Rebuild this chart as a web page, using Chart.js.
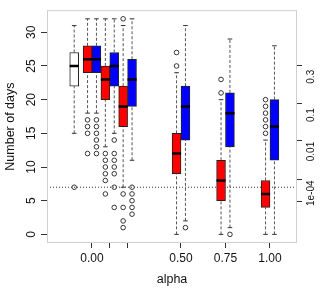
<!DOCTYPE html>
<html><head><meta charset="utf-8">
<script src="https://cdn.jsdelivr.net/npm/chart.js@4/dist/chart.umd.min.js"></script>
<style>html,body{margin:0;padding:0;background:#fff}#wrap{width:320px;height:290px}</style>
</head><body><div id="wrap"><canvas id="c" width="320" height="290"></canvas></div>
<script>
// ---- data (box stats: [lower whisker, q1, median, q3, upper whisker]) ----
const alphas = [0, 0.1, 0.2, 0.5, 0.75, 1.0];
const refAlpha = -0.1;
const refBox = [15, 22, 25, 27, 31];
const refOutliers = [7];
const redBoxes = [[18,24,26,28,32],[13,20,23,25,32],[7,16,19,22,31],[0,9,12,15,24],[0,5,8,11,20],[0,4,6,8,14]];
const redOutliers = [[17,16,15,12],[12,11,10,9,8,6],[32,6,4,2,1],[25,27],[21,23],[15,16,17,18,19,20]];
const blueBoxes = [[18,24,26,28,32],[15,22,25,27,32],[11,19,23,26,32],[2,14,19,22,31],[1,13,18,21,29],[0,11,16,20,28]];
const blueOutliers = [[17,16,15,14,13,12],[14,12,11,10,9,7,4],[7,6,5,4,3],[1],[0],[]];
const refLineValue = 7;
const xTickValues = [0, 0.1, 0.2, 0.5, 0.75, 1.0];
const xTickLabels = ['0.00', '', '', '0.50', '0.75', '1.00'];
const yTickValues = [0, 5, 10, 15, 20, 25, 30];
const rightTickMarks = [25, 19.5, 13.9, 8.2, 4.9];
const rightLabelPos = [23.4, 17.7, 12.3, 6.1];
const rightTickLabels = ['0.3', '0.1', '0.01', '1e-04'];

// ---- layout constants ----
const X_MIN = -0.2528, X_MAX = 1.1517, Y_MIN = -1.28, Y_MAX = 33.28;
const PAIR_OFFSET = 0.025;
const FONT = '"Liberation Sans", Arial, Helvetica, sans-serif';
const TXT = '#111';

const groups = [
  {color: '#ffffff', boxes: [{x: refAlpha, s: refBox, o: refOutliers}]},
  {color: '#ff0000', boxes: alphas.map((a, i) => ({x: a - PAIR_OFFSET, s: redBoxes[i], o: redOutliers[i]}))},
  {color: '#0000ff', boxes: alphas.map((a, i) => ({x: a + PAIR_OFFSET, s: blueBoxes[i], o: blueOutliers[i]}))}
];
const allBoxes = groups.flatMap(g => g.boxes);

const datasets = [];
groups.forEach(g => {
  datasets.push({
    type: 'bar',
    data: g.boxes.map(b => ({x: b.x, y: [b.s[1], b.s[3]]})),
    backgroundColor: g.color, borderColor: '#222', borderWidth: 1, borderSkipped: false,
    grouped: false, categoryPercentage: 1, barPercentage: 1, maxBarThickness: 9, order: 3
  });
});
const whisk = [];
allBoxes.forEach(b => {
  whisk.push({x: b.x, y: b.s[0]}, {x: b.x, y: b.s[1]}, {x: b.x, y: null},
             {x: b.x, y: b.s[3]}, {x: b.x, y: b.s[4]}, {x: b.x, y: null});
});
datasets.push({type: 'line', data: whisk, spanGaps: false, borderColor: '#555', borderWidth: 1,
  borderDash: [3, 2], pointRadius: 0, tension: 0, order: 5});
datasets.push({type: 'scatter', data: allBoxes.flatMap(b => [{x: b.x, y: b.s[0]}, {x: b.x, y: b.s[4]}]),
  pointStyle: 'line', pointRadius: 2.3, borderColor: '#333', borderWidth: 1, order: 4});
datasets.push({type: 'scatter', data: allBoxes.map(b => ({x: b.x, y: b.s[2]})),
  pointStyle: 'line', pointRadius: 4.5, borderColor: '#000', borderWidth: 2.5, order: 2});
datasets.push({type: 'scatter', data: allBoxes.flatMap(b => b.o.map(v => ({x: b.x, y: v}))),
  pointStyle: 'circle', pointRadius: 2.3, borderColor: '#333', backgroundColor: 'rgba(0,0,0,0)', borderWidth: 1, order: 1});
datasets.push({type: 'line', data: [{x: X_MIN, y: refLineValue}, {x: X_MAX, y: refLineValue}],
  borderColor: '#333', borderWidth: 1, borderDash: [1, 2], pointRadius: 0, order: 6});

const frame = {
  id: 'frame',
  afterDatasetsDraw(chart) {
    const {ctx, chartArea: a} = chart;
    ctx.save();
    ctx.strokeStyle = '#cfcfcf'; ctx.lineWidth = 1;
    ctx.strokeRect(a.left + 0.5, a.top + 0.5, a.right - a.left - 1, a.bottom - a.top - 1);
    ctx.restore();
  }
};

const rightTicks = rightTickMarks.map(v => ({value: v, mark: true, lbl: ''}))
  .concat(rightLabelPos.map((v, i) => ({value: v, mark: false, lbl: rightTickLabels[i]})))
  .sort((p, q) => p.value - q.value);

new Chart(document.getElementById('c'), {
  type: 'bar',
  data: {datasets},
  plugins: [frame],
  options: {
    responsive: false, animation: false, events: [],
    layout: {padding: {top: 4, left: 0, right: 0, bottom: 0}},
    plugins: {legend: {display: false}, tooltip: {enabled: false}},
    scales: {
      x: {
        type: 'linear', min: X_MIN, max: X_MAX, offset: false,
        afterBuildTicks: s => { s.ticks = xTickValues.map(v => ({value: v})); },
        ticks: {autoSkip: false, maxRotation: 0, minRotation: 0, padding: 3,
          font: {family: FONT, size: 12}, color: TXT, callback: (v, i) => xTickLabels[i]},
        grid: {offset: false, drawOnChartArea: false, tickLength: 5, tickColor: '#333'},
        border: {display: false},
        title: {display: true, text: 'alpha', font: {family: FONT, size: 12.5}, color: TXT, padding: {top: 0, bottom: 3}},
        afterFit: s => { s.height = 47; }
      },
      y: {
        type: 'linear', position: 'left', min: Y_MIN, max: Y_MAX,
        afterBuildTicks: s => { s.ticks = yTickValues.map(v => ({value: v})); },
        ticks: {autoSkip: false, minRotation: 90, maxRotation: 90, crossAlign: 'center', padding: 3,
          font: {family: FONT, size: 12}, color: TXT, callback: v => String(v)},
        grid: {drawOnChartArea: false, tickLength: 6, tickColor: '#333'},
        border: {display: false},
        title: {display: true, text: 'Number of days', font: {family: FONT, size: 12.5}, color: TXT, padding: {top: 3, bottom: 0}},
        afterFit: s => { s.width = 47; }
      },
      y2: {
        type: 'linear', position: 'right', min: Y_MIN, max: Y_MAX,
        afterBuildTicks: s => { s.ticks = rightTicks.map(t => Object.assign({}, t)); },
        ticks: {autoSkip: false, minRotation: 90, maxRotation: 90, crossAlign: 'center', padding: -4,
          font: {family: FONT, size: 10}, color: TXT, callback: (v, i, t) => (t[i] && t[i].lbl) || ''},
        grid: {drawOnChartArea: false, tickLength: 5,
          tickColor: c => (c.tick && c.tick.mark) ? '#333' : 'rgba(0,0,0,0)'},
        border: {display: false},
        afterFit: s => { s.width = 23; }
      }
    }
  }
});
</script></body></html>
